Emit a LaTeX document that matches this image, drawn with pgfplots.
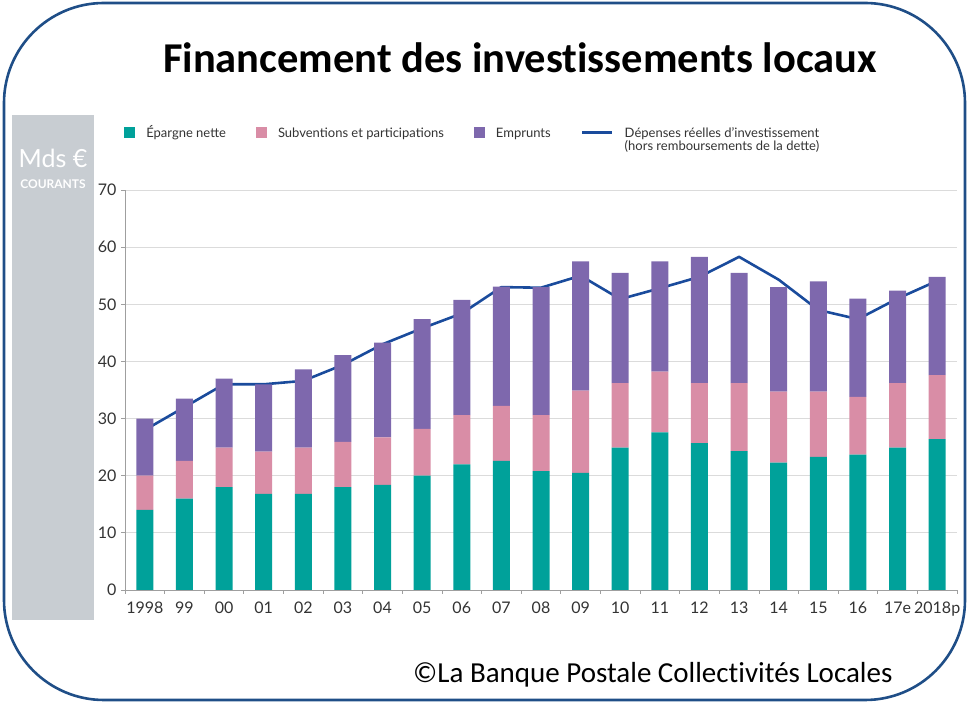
\documentclass[border=0pt]{standalone}
\usepackage{pgfplots}
\pgfplotsset{compat=1.18}
\usepackage{pgfplotstable}
\usepackage{fontspec}
\setmainfont{Lato}
\newfontfamily\carlito[Ligatures=CommonOff]{Carlito}
\definecolor{cteal}{HTML}{00A19A}
\definecolor{cpink}{HTML}{D98DA6}
\definecolor{cpurple}{HTML}{7E68AD}
\definecolor{cline}{HTML}{1A4B9C}
\definecolor{cpanel}{HTML}{C8CDD2}
\definecolor{cborder}{HTML}{1F4E87}
\definecolor{ctext}{HTML}{333333}

\pgfplotstableread{
x teal pink purple line
0  14.0 6.0  10.0 28.0
1  16.0 6.6  10.9 32.0
2  18.0 6.9  12.1 36.0
3  16.8 7.4  11.8 36.0
4  16.8 8.1  13.7 36.6
5  18.0 7.9  15.2 39.4
6  18.4 8.3  16.6 43.0
7  20.0 8.2  19.2 45.8
8  22.0 8.6  20.15 48.4
9  22.6 9.6  20.9 53.0
10 20.8 9.8  22.4 52.9
11 20.5 14.4 22.6 55.0
12 24.9 11.3 19.3 50.9
13 27.6 10.6 19.3 52.8
14 25.7 10.5 22.1 54.8
15 24.3 11.9 19.3 58.3
16 22.3 12.4 18.3 54.3
17 23.3 11.4 19.3 49.0
18 23.7 10.1 17.2 47.4
19 24.9 11.3 16.2 51.0
20 26.4 11.2 17.2 54.1
}\datatable

\begin{document}
\begin{tikzpicture}[x=1pt,y=1pt]
\useasboundingbox (0,0) rectangle (969,703);
% grey side panel
\fill[cpanel] (12,83) rectangle (94,588);
\node[text=white, font=\fontsize{25}{27}\selectfont] at (53,545) {Mds €};
\node[text=white, font=\bfseries\fontsize{12}{13}\selectfont] at (53,519) {COURANTS};
% title
\node[font=\carlito\bfseries\fontsize{42.5}{48}\selectfont] at (520,645) {Financement des investissements locaux};
% footer
\node[anchor=east, font=\carlito\fontsize{29}{33}\selectfont] at (896,28) {©La Banque Postale Collectivités Locales};

\begin{axis}[
  at={(125pt,113pt)}, anchor=south west,
  scale only axis, width=832pt, height=400pt,
  xmin=-0.5, xmax=20.5, ymin=0, ymax=70,
  axis x line*=bottom, axis y line*=left,
  axis line style={-, draw=gray!75, line width=0.9pt},
  ybar stacked, bar width=17pt,
  xtick={0,...,20},
  xticklabels={1998,99,00,01,02,03,04,05,06,07,08,09,10,11,12,13,14,15,16,17e,2018p},
  minor xtick={-0.5,0.5,...,20.5},
  every major x tick/.append style={draw=none},
  every minor x tick/.append style={draw=gray!75, line width=0.8pt},
  minor tick length=4pt,
  ytick={0,10,...,70},
  every major y tick/.append style={draw=gray!75, line width=0.8pt},
  major tick length=4pt,
  tick align=outside,
  ymajorgrids, grid style={draw=gray!28, line width=0.9pt},
  /pgf/number format/assume math mode=true,
  tick label style={font=\fontsize{16}{17}\selectfont, text=ctext},
  yticklabel style={xshift=-1pt},
  xticklabel style={yshift=-4pt},
  legend columns=4,
  legend cell align=left,
  legend style={
    at={(axis description cs:-0.001,1.163)}, anchor=north west,
    draw=none, fill=none, inner sep=0pt,
    font=\fontsize{13}{14.5}\selectfont, text=ctext,
    nodes={inner sep=0pt, anchor=base west},
    /tikz/every odd column/.append style={column sep=11pt},
    /tikz/every even column/.append style={column sep=30pt},
  },
]
\addplot[fill=cteal, draw=none, legend image code/.code={\fill[cteal] (0pt,-1pt) rectangle (11pt,10pt);}] table[x=x, y=teal] {\datatable};
\addlegendentry{Épargne nette}
\addplot[fill=cpink, draw=none, legend image code/.code={\fill[cpink] (0pt,-1pt) rectangle (11pt,10pt);}] table[x=x, y=pink] {\datatable};
\addlegendentry{Subventions et participations}
\addplot[fill=cpurple, draw=none, legend image code/.code={\fill[cpurple] (0pt,-1pt) rectangle (11pt,10pt);}] table[x=x, y=purple] {\datatable};
\addlegendentry{Emprunts}
\addplot[sharp plot, stack plots=false, draw=cline, line width=2.6pt, no marks, line join=round,
  legend image code/.code={\draw[cline, line width=3pt] (0pt,4.5pt) -- (30pt,4.5pt);}] table[x=x, y=line] {\datatable};
\addlegendentry{\begin{tabular}[t]{@{}l@{}}Dépenses réelles d'investissement\\[-1pt](hors remboursements de la dette)\end{tabular}}
\end{axis}

% border
\draw[cborder, line width=2.6pt, rounded corners=100pt] (4,3) rectangle (965,700);
\end{tikzpicture}
\end{document}
